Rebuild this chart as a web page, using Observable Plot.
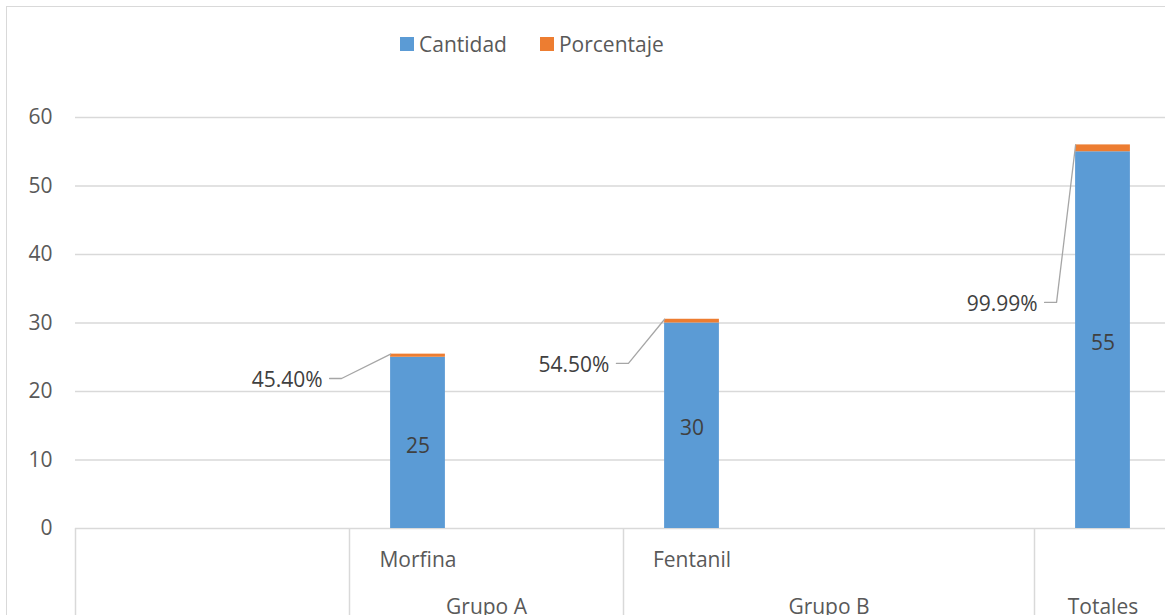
<!DOCTYPE html>
<html>
<head>
<meta charset="utf-8">
<script src="https://cdn.jsdelivr.net/npm/d3@7"></script>
<script src="https://cdn.jsdelivr.net/npm/@observablehq/plot@0.6"></script>
<style>
  html, body { margin: 0; padding: 0; background: #fff; }
  #wrap { position: relative; width: 1165px; height: 615px; overflow: hidden; background: #fff;
          font-family: "Open Sans", sans-serif; }
  #border { position: absolute; left: 6px; top: 6px; width: 2000px; height: 2000px;
            border: 1.5px solid #d9d9d9; box-sizing: border-box; }
  #chart { position: absolute; left: 0; top: 0; width: 1171px; }
  #chart svg { max-width: none !important; }
  #legend { position: absolute; left: 400px; top: 30px; display: flex; align-items: center;
            font-size: 21px; color: #595959; }
  #legend .item { display: flex; align-items: center; margin-right: 33px; }
  #legend .sw { width: 14px; height: 14px; margin-right: 5px; }
</style>
</head>
<body>
<div id="wrap">
  <div id="border"></div>
  <div id="chart"></div>
  <div id="legend"></div>
</div>
<script>
// ---- data ----
const categorias = ["", "", "Morfina", "", "Fentanil", "", "", ""];
const grupos = ["", "Grupo A", "Grupo B", "Totales"];
const grupoTamano = [2, 2, 3, 1];
const cantidad = [null, null, 25, null, 30, null, null, 55];
const porcentaje = [null, null, 0.454, null, 0.545, null, null, 0.9999];
const series = ["Cantidad", "Porcentaje"];
const colores = ["#5B9BD5", "#ED7D31"];
const yTicks = [0, 10, 20, 30, 40, 50, 60];
// percentage label anchor (leader elbow) in data units: category index, value
const etiquetaPct = [
  {cat: 2, x: 1.942, y: 21.9},
  {cat: 4, x: 4.036, y: 24.1},
  {cat: 7, x: 7.161, y: 33.0}
];

// ---- derived tables ----
const barras = categorias.map((c, i) => ({i, c, cantidad: cantidad[i], pct: porcentaje[i]}))
  .filter(d => d.cantidad != null);
const limites = [0];
grupoTamano.forEach(n => limites.push(limites[limites.length - 1] + n));
const gruposData = grupos.map((g, k) => ({g, mid: (limites[k] + limites[k + 1]) / 2}));
const halfBar = 0.2;      // bar half-width in category units (gap width 150%)
const stub = 0.0876;      // horizontal part of the leader line
const leaders = [];
etiquetaPct.forEach((e, k) => {
  const b = barras.find(d => d.i === e.cat);
  leaders.push({k, x: e.x - stub, y: e.y});
  leaders.push({k, x: e.x, y: e.y});
  leaders.push({k, x: b.i + 0.5 - halfBar, y: b.cantidad + b.pct});
});
const pctLabels = etiquetaPct.map(e => {
  const b = barras.find(d => d.i === e.cat);
  return {x: e.x - stub, y: e.y, t: (b.pct * 100).toFixed(2) + "%"};
});

const FS = 21;
const chart = Plot.plot({
  width: 1171,
  height: 615,
  marginLeft: 75,
  marginRight: 0,
  marginTop: 117,
  marginBottom: 87,
  style: {fontFamily: "Open Sans, sans-serif", color: "#595959", background: "transparent",
          overflow: "visible", maxWidth: "none"},
  x: {domain: [0, categorias.length], axis: null},
  y: {domain: [0, 60], axis: null},
  marks: [
    Plot.gridY(yTicks, {stroke: "#d9d9d9", strokeOpacity: 1, strokeWidth: 1.5}),
    Plot.axisY(yTicks, {tickSize: 0, tickPadding: 23, fontSize: FS, fill: "#595959"}),
    Plot.ruleX(limites, {x: d => d, y1: 0, y2: -15, stroke: "#d9d9d9", strokeWidth: 1.5}),
    Plot.text(categorias.map((c, i) => ({c, i})), {x: d => d.i + 0.5, text: "c", frameAnchor: "bottom",
      lineAnchor: "middle", dy: 32, fontSize: FS, fill: "#595959"}),
    Plot.text(gruposData, {x: "mid", text: "g", frameAnchor: "bottom", lineAnchor: "middle",
      dy: 79, fontSize: FS, fill: "#595959"}),
    Plot.rectY(barras, {x1: d => d.i + 0.5 - halfBar, x2: d => d.i + 0.5 + halfBar,
      y1: 0, y2: "cantidad", fill: colores[0]}),
    Plot.rectY(barras, {x1: d => d.i + 0.5 - halfBar, x2: d => d.i + 0.5 + halfBar,
      y1: "cantidad", y2: d => d.cantidad + d.pct, fill: colores[1]}),
    Plot.text(barras, {x: d => d.i + 0.5, y: d => d.cantidad / 2, text: d => String(d.cantidad),
      dy: 3, fontSize: FS, fill: "#404040"}),
    Plot.line(leaders, {x: "x", y: "y", z: "k", stroke: "#a6a6a6", strokeWidth: 1.3, curve: "linear"}),
    Plot.text(pctLabels, {x: "x", y: "y", text: "t", textAnchor: "end", dx: -7, dy: 2,
      fontSize: FS, fill: "#404040"})
  ]
});
document.getElementById("chart").appendChild(chart);

const legend = document.getElementById("legend");
series.forEach((s, k) => {
  const it = document.createElement("div");
  it.className = "item";
  const sw = document.createElement("div");
  sw.className = "sw";
  sw.style.background = colores[k];
  const tx = document.createElement("span");
  tx.textContent = s;
  it.appendChild(sw); it.appendChild(tx);
  legend.appendChild(it);
});
</script>
</body>
</html>
